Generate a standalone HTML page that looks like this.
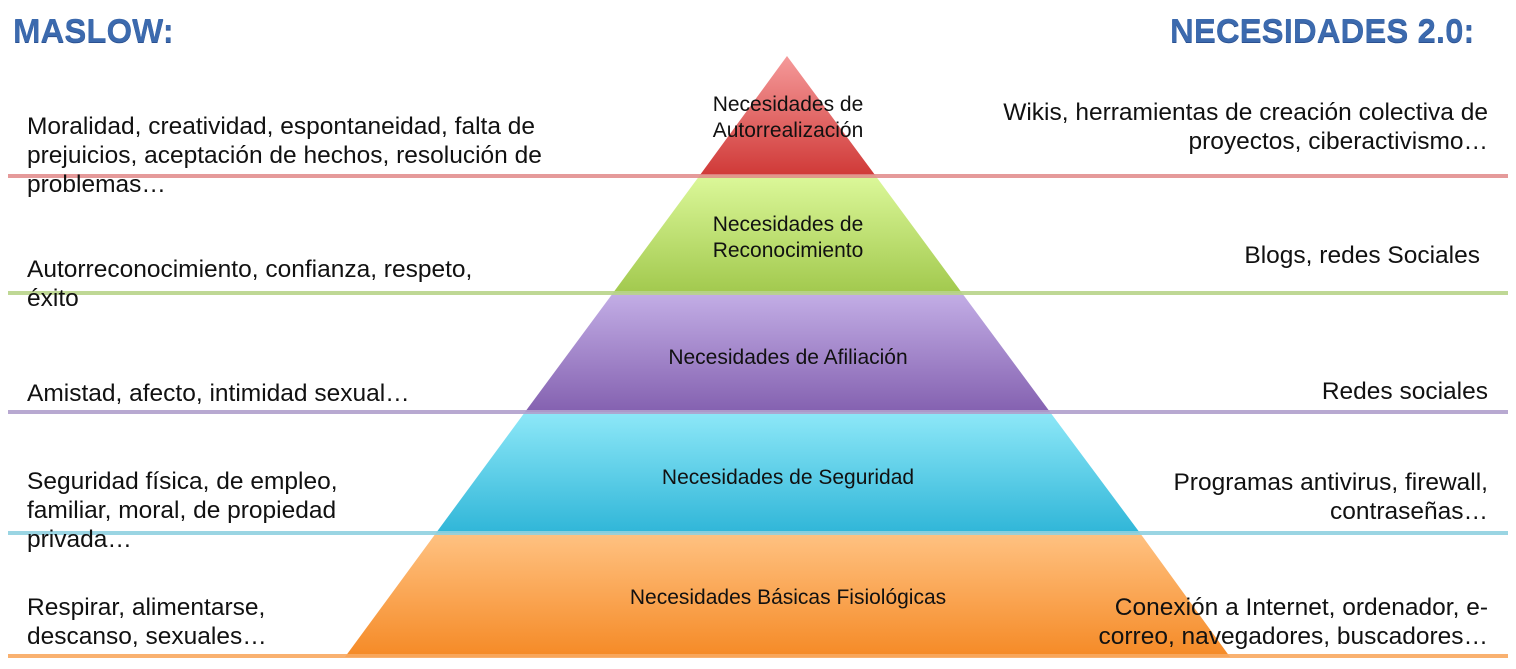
<!DOCTYPE html>
<html><head><meta charset="utf-8"><style>
body{margin:0;width:1516px;height:669px;background:#fff;position:relative;overflow:hidden;font-family:"Liberation Sans",sans-serif}
.t{position:absolute;font-size:24.5px;line-height:29px;color:#111;white-space:nowrap}
.r{text-align:right}
.h{position:absolute;font-weight:bold;font-size:33px;color:#3c6aae;letter-spacing:0px;text-shadow:0 1px 0 #2a5090}
.p{position:absolute;font-size:21px;line-height:26px;color:#111;text-align:center;width:400px;white-space:nowrap}
</style></head><body>
<svg width="1516" height="669" style="position:absolute;left:0;top:0">
<defs>
<linearGradient id="g1" x1="0" y1="0" x2="0" y2="1"><stop offset="0" stop-color="#f59a9a"/><stop offset="1" stop-color="#d03a38"/></linearGradient>
<linearGradient id="g2" x1="0" y1="0" x2="0" y2="1"><stop offset="0" stop-color="#dcf89a"/><stop offset="1" stop-color="#a2c94e"/></linearGradient>
<linearGradient id="g3" x1="0" y1="0" x2="0" y2="1"><stop offset="0" stop-color="#c3aee6"/><stop offset="1" stop-color="#8461b0"/></linearGradient>
<linearGradient id="g4" x1="0" y1="0" x2="0" y2="1"><stop offset="0" stop-color="#8ee8f8"/><stop offset="1" stop-color="#30b6d8"/></linearGradient>
<linearGradient id="g5" x1="0" y1="0" x2="0" y2="1"><stop offset="0" stop-color="#ffc282"/><stop offset="1" stop-color="#f58a26"/></linearGradient>
</defs>
<polygon points="787,56 875,175 700,175" fill="url(#g1)"/>
<polygon points="700,175 875,175 962,293 613,293" fill="url(#g2)"/>
<polygon points="613,293 962,293 1050,412 525,412" fill="url(#g3)"/>
<polygon points="525,412 1050,412 1140,533 436,533" fill="url(#g4)"/>
<polygon points="436,533 1140,533 1230,657 345,657" fill="url(#g5)"/>
<rect x="8" y="174" width="1500" height="4" fill="#e08888" opacity=".85"/>
<rect x="8" y="291" width="1500" height="4" fill="#b8d48a" opacity=".9"/>
<rect x="8" y="410" width="1500" height="4" fill="#b0a0cc" opacity=".9"/>
<rect x="8" y="531" width="1500" height="4" fill="#8fd0e0" opacity=".9"/>
<rect x="8" y="654" width="1500" height="4" fill="#f8a860" opacity=".9"/>
</svg>
<div class="h" style="left:13px;top:12px">MASLOW:</div>
<div class="h" style="left:1170px;top:12px">NECESIDADES 2.0:</div>
<div class="p" style="left:588px;top:92px">Necesidades de<br>Autorrealización</div>
<div class="p" style="left:588px;top:212px">Necesidades de<br>Reconocimiento</div>
<div class="p" style="left:588px;top:345px">Necesidades de Afiliación</div>
<div class="p" style="left:588px;top:465px">Necesidades de Seguridad</div>
<div class="p" style="left:588px;top:585px">Necesidades Básicas Fisiológicas</div>
<div class="t" style="left:27px;top:112px">Moralidad, creatividad, espontaneidad, falta de<br>prejuicios, aceptación de hechos, resolución de<br>problemas…</div>
<div class="t" style="left:27px;top:255px">Autorreconocimiento, confianza, respeto,<br>éxito</div>
<div class="t" style="left:27px;top:379px">Amistad, afecto, intimidad sexual…</div>
<div class="t" style="left:27px;top:467px">Seguridad física, de empleo,<br>familiar, moral, de propiedad<br>privada…</div>
<div class="t" style="left:27px;top:593px">Respirar, alimentarse,<br>descanso, sexuales…</div>
<div class="t r" style="right:28px;top:98px">Wikis, herramientas de creación colectiva de<br>proyectos, ciberactivismo…</div>
<div class="t r" style="right:36px;top:241px">Blogs, redes Sociales</div>
<div class="t r" style="right:28px;top:377px">Redes sociales</div>
<div class="t r" style="right:28px;top:468px">Programas antivirus, firewall,<br>contraseñas…</div>
<div class="t r" style="right:28px;top:593px">Conexión a Internet, ordenador, e-<br>correo, navegadores, buscadores…</div>
</body></html>
